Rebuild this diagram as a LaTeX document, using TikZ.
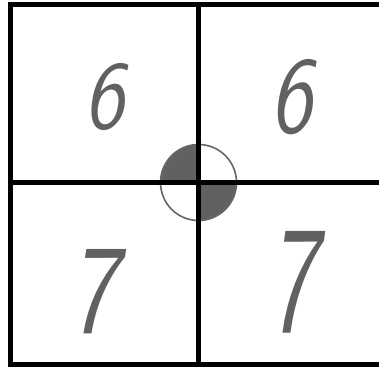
\documentclass[tikz,border=0pt]{standalone}
\usepackage{graphicx}
\begin{document}
\begin{tikzpicture}[x=1pt,y=1pt,
  gridline/.style={line width=5pt,black},
  innerline/.style={line width=4.5pt,black},
  pencil/.style={draw=black!60,line width=1.6pt},
  shade/.style={fill=black!62},
  digit/.style={text=black!62,inner sep=0pt}]
\useasboundingbox (0,0) rectangle (379,366);
\fill[white] (0,0) rectangle (379,366);
\coordinate (c) at (198.5,183.5);
% shaded quadrants of the circle
\fill[shade] (c) -- ++(180:38) arc[start angle=180,end angle=90,radius=38] -- cycle;
\fill[shade] (c) -- ++(0:38) arc[start angle=0,end angle=-90,radius=38] -- cycle;
\draw[pencil] (c) circle[radius=38];
% grid
\draw[gridline] (379,361) -- (10,361) -- (10,0);
\draw[gridline] (7.5,2) -- (379,2);
\draw[innerline] (198.5,361) -- (198.5,2);
\draw[innerline] (10,183.5) -- (379,183.5);
% digits
\node[digit] (d1) at (104,269) {\resizebox{40pt}{65pt}{\sffamily\itshape 6}};
\node[digit] (d2) at (291,269) {\resizebox{42pt}{73pt}{\sffamily\itshape 6}};
\node[digit] (d3) at (93,74) {\resizebox{48pt}{83pt}{\sffamily\itshape 7}};
\node[digit] (d4) at (292,84) {\resizebox{48pt}{100pt}{\sffamily\itshape 7}};
\end{tikzpicture}
\end{document}
